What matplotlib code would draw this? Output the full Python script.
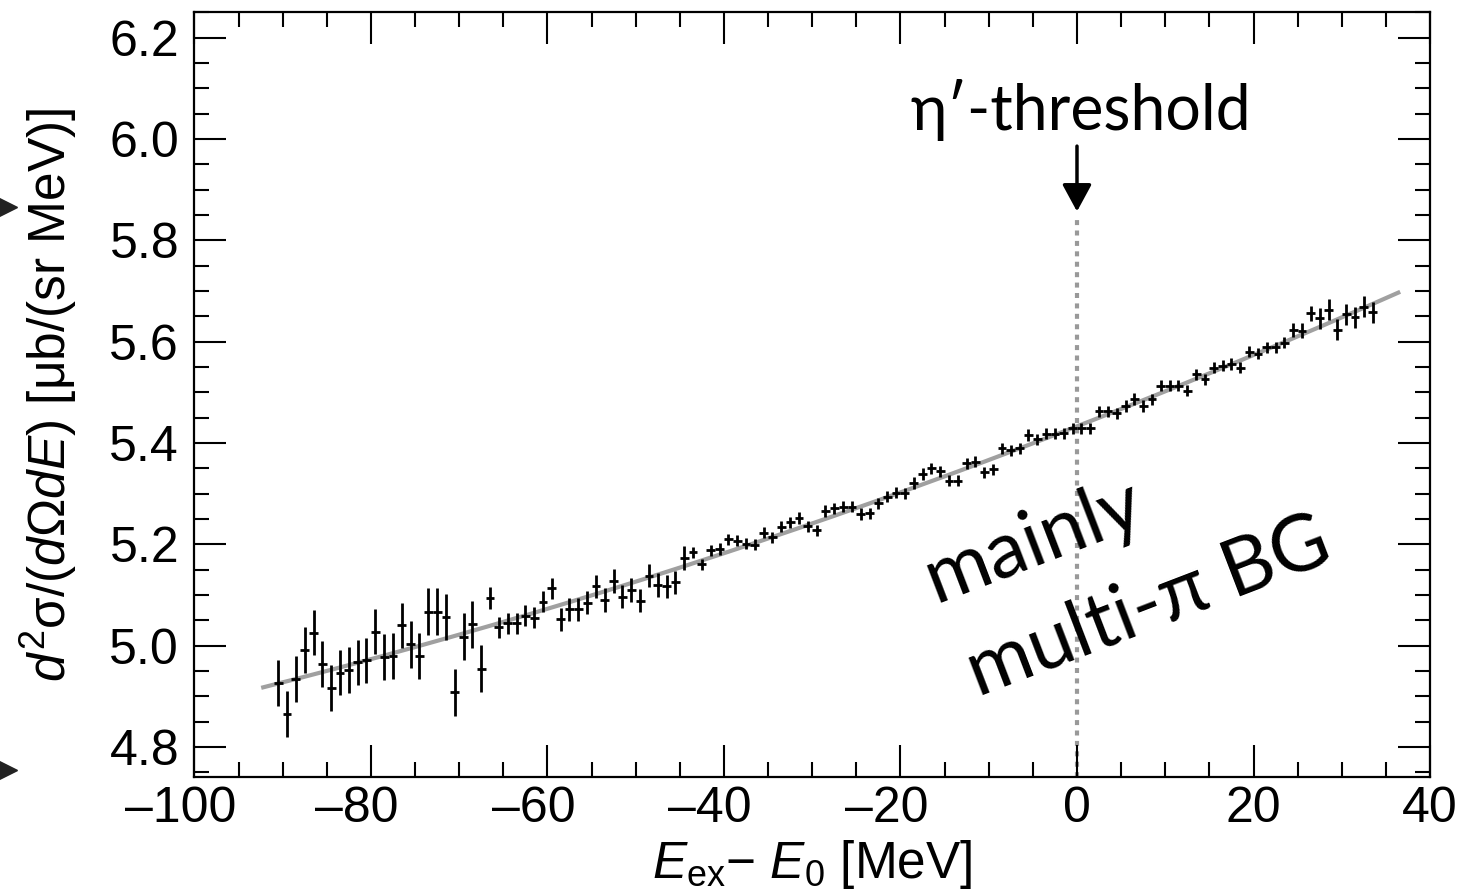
import numpy as np
import matplotlib
matplotlib.use("Agg")
from matplotlib import pyplot as plt
from matplotlib.ticker import MultipleLocator, FuncFormatter
from matplotlib.lines import Line2D

plt.rcParams['font.family'] = ['Liberation Sans', 'DejaVu Sans']
plt.rcParams['mathtext.fontset'] = 'custom'
plt.rcParams['mathtext.rm'] = 'Liberation Sans'
plt.rcParams['mathtext.it'] = 'Liberation Sans:italic'

# 1 MeV bins, centres from -90.5 to 33.5 MeV
energy = np.arange(-90.5, 34.0, 1.0)

# cross section [ub/(sr MeV)]
xsec = [
    # -90.5 .. -59.5
    4.926, 4.865, 4.934, 4.992, 5.026, 4.964, 4.917, 4.947, 4.952, 4.967,
    4.971, 5.028, 4.978, 4.980, 5.040, 5.003, 4.980, 5.067, 5.067, 5.057,
    4.908, 5.018, 5.042, 4.955, 5.094, 5.036, 5.044, 5.044, 5.059, 5.055,
    5.087, 5.113,
    # -58.5 .. -27.5
    5.052, 5.072, 5.072, 5.085, 5.117, 5.090, 5.128, 5.097, 5.110, 5.089,
    5.138, 5.120, 5.117, 5.125, 5.173, 5.184, 5.161, 5.188, 5.191, 5.210,
    5.207, 5.201, 5.199, 5.223, 5.214, 5.235, 5.244, 5.252, 5.236, 5.228,
    5.266, 5.271,
    # -26.5 .. 1.5
    5.274, 5.274, 5.260, 5.261, 5.281, 5.294, 5.302, 5.301, 5.321, 5.339,
    5.350, 5.344, 5.326, 5.326, 5.360, 5.363, 5.342, 5.348, 5.390, 5.386,
    5.390, 5.416, 5.407, 5.418, 5.418, 5.419, 5.429, 5.429, 5.429,
    # 2.5 .. 33.5
    5.463, 5.463, 5.459, 5.473, 5.487, 5.473, 5.486, 5.513, 5.513, 5.513,
    5.503, 5.536, 5.526, 5.549, 5.553, 5.556, 5.549, 5.580, 5.576, 5.589,
    5.589, 5.598, 5.623, 5.622, 5.656, 5.646, 5.663, 5.624, 5.654, 5.648,
    5.669, 5.658,
]

xsec_err = ([0.045] * 15 + [0.046] * 9 + [0.021] * 8 + [0.023] * 15
            + [0.011] * 68 + [0.014] * 2 + [0.015] + [0.021] * 7)

# grey background fit
fit_e = [-92.2, -58.6, -26.8, 4.9, 36.4]
fit_y = [4.916, 5.084, 5.261, 5.462, 5.699]

fig = plt.figure(figsize=(14.67, 8.94), dpi=100)
ax = fig.add_axes([0.1325, 0.1312, 0.8423, 0.855])

# fit curve
coef = np.polyfit(fit_e, fit_y, 2)
ee = np.linspace(fit_e[0], fit_e[-1], 300)
ax.plot(ee, np.polyval(coef, ee), color='#a0a0a0', lw=3.0, zorder=1)

# threshold line
ax.plot([0, 0], [4.70, 5.85], color='#999999', lw=3.0,
        linestyle=(0, (1.2, 1.3)), zorder=1)

# data
ax.errorbar(energy, xsec, yerr=xsec_err, xerr=0.5, fmt='none',
            ecolor='black', elinewidth=2.0, capsize=0, zorder=3)


def xfmt(v, pos):
    # minus hangs left of the digits, as in the original
    if v < 0:
        return '\u2013%d\u2007' % abs(v)
    return '%d' % v


ax.set_xlim(-100, 40)
ax.set_ylim(4.7415, 6.25)
ax.xaxis.set_major_locator(MultipleLocator(20))
ax.xaxis.set_minor_locator(MultipleLocator(5))
ax.xaxis.set_major_formatter(FuncFormatter(xfmt))
ax.yaxis.set_major_locator(MultipleLocator(0.2))
ax.yaxis.set_minor_locator(MultipleLocator(0.05))
ax.yaxis.set_major_formatter(plt.FormatStrFormatter('%.1f'))

ax.tick_params(which='both', direction='in', top=True, right=True,
               width=1.5, labelsize=36)
ax.tick_params(which='major', length=23)
ax.tick_params(which='minor', length=11)
ax.tick_params(axis='x', pad=7)
ax.tick_params(axis='y', pad=11)
for s in ax.spines.values():
    s.set_linewidth(1.6)

ax.set_xlabel(r'$E_{\mathrm{ex}}$' + '\u2212 ' + r'$E_{\mathrm{0}}$ [MeV]',
              fontsize=37, labelpad=4)
ax.set_ylabel(r'$d^{2}$σ/($d$Ω$dE$) [μb/(sr MeV)]', fontsize=37,
              labelpad=22)

# annotations
ann_font = ['Lato', 'DejaVu Sans']
ax.text(0.4, 6.018, 'η\u2032-threshold', family=ann_font, fontsize=45,
        ha='center', va='baseline')
ax.annotate('', xy=(0, 5.857), xytext=(0, 5.986),
            arrowprops=dict(arrowstyle='-|>,head_length=0.83,head_width=0.45',
                            lw=2.5, color='black', shrinkA=0, shrinkB=0,
                            mutation_scale=20))
ax.text(-16.1, 5.084, 'mainly', family=ann_font, fontsize=57,
        rotation=21, rotation_mode='anchor', ha='left', va='baseline')
ax.text(-11.2, 4.899, 'multi-π BG', family=ann_font, fontsize=57,
        rotation=21, rotation_mode='anchor', ha='left', va='baseline')

# slide markers at the left edge
for yy in [1 - 207 / 894, 1 - 770 / 894]:
    fig.add_artist(Line2D([7 / 1467], [yy], marker='>', markersize=15,
                          color='#222222', transform=fig.transFigure))

fig.savefig('out.png', dpi=100)
